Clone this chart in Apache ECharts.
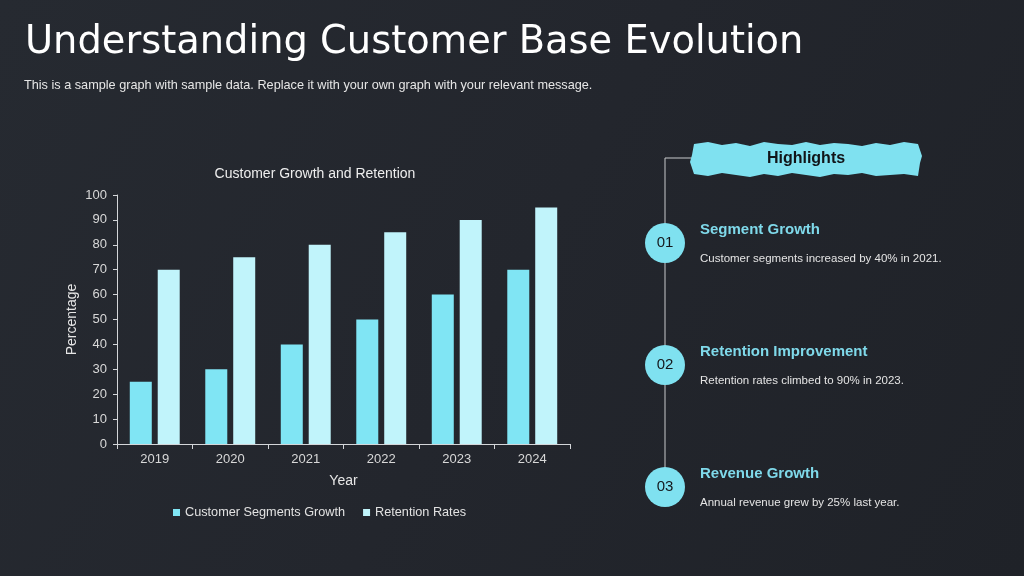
<!DOCTYPE html>
<html>
<head>
<meta charset="utf-8">
<script src="https://cdn.jsdelivr.net/npm/echarts@6/dist/echarts.min.js"></script>
<style>
html,body{margin:0;padding:0;background:#22252c;}
#c{width:1024px;height:576px;}
</style>
</head>
<body>
<div id="c"></div>
<script>
const years = ['2019','2020','2021','2022','2023','2024'];
const segmentGrowth = [25, 30, 40, 50, 60, 70];
const retentionRates = [70, 75, 80, 85, 90, 95];
const seriesNames = ['Customer Segments Growth', 'Retention Rates'];
const highlights = [
  {num: '01', head: 'Segment Growth', text: 'Customer segments increased by 40% in 2021.'},
  {num: '02', head: 'Retention Improvement', text: 'Retention rates climbed to 90% in 2023.'},
  {num: '03', head: 'Revenue Growth', text: 'Annual revenue grew by 25% last year.'}
];

const cyan = '#80e5f4';
const light = '#c1f4fb';
const axisCol = '#d4d6d9';
const font = 'Liberation Sans, Arial, sans-serif';

// rough brush banner outline
function banner(x0, y0, x1, y1) {
  const pts = [];
  const jt = [0,-2,1,-1,2,-2,0,1,-2,1,-1,0,2,-1,1,-2,0];
  const jb = [0,2,-1,1,3,0,2,-1,1,3,0,1,-1,2,1,0,2];
  const n = jt.length - 1;
  for (let i = 0; i <= n; i++) pts.push([x0 + (x1 - x0) * i / n, y0 + jt[i]]);
  pts.push([x1 + 4, (y0 + y1) / 2 - 3]);
  pts.push([x1 + 2, (y0 + y1) / 2 + 4]);
  for (let i = n; i >= 0; i--) pts.push([x0 + (x1 - x0) * i / n, y1 + jb[i]]);
  pts.push([x0 - 4, (y0 + y1) / 2 + 3]);
  pts.push([x0 - 2, (y0 + y1) / 2 - 4]);
  return pts;
}

const graphics = [
  {type: 'rect', shape: {x: 0, y: 0, width: 1024, height: 576}, z: -10,
   style: {fill: new echarts.graphic.LinearGradient(0, 0, 1, 1, [
     {offset: 0, color: '#262a31'}, {offset: 0.5, color: '#23262d'}, {offset: 1, color: '#1f2228'}])}},
  {type: 'text', left: 25, top: 24, style: {text: 'Understanding Customer Base Evolution',
    fill: '#ffffff', font: '38.4px "Comic Sans MS", "DejaVu Sans", sans-serif'}},
  {type: 'text', left: 24, top: 79, style: {text: 'This is a sample graph with sample data. Replace it with your own graph with your relevant message.',
    fill: '#e6e6e6', font: '12.7px ' + font}},
  {type: 'text', x: 315, y: 174, style: {text: 'Customer Growth and Retention', fill: '#eeeeee',
    font: '14px ' + font, align: 'center', verticalAlign: 'middle'}},
  // timeline
  {type: 'line', shape: {x1: 665, y1: 158, x2: 665, y2: 468}, style: {stroke: '#c8cacc', lineWidth: 1}},
  {type: 'line', shape: {x1: 665, y1: 158, x2: 694, y2: 158}, style: {stroke: '#c8cacc', lineWidth: 1}},
  {type: 'polygon', shape: {points: banner(694, 144, 918, 174)}, style: {fill: '#7fe1f0'}},
  {type: 'text', x: 806, y: 159, style: {text: 'Highlights', fill: '#111418',
    font: 'bold 16px ' + font, align: 'center', verticalAlign: 'middle'}}
];
const ys = [243, 365, 487];
highlights.forEach((h, i) => {
  const y = ys[i];
  graphics.push({type: 'circle', shape: {cx: 665, cy: y, r: 20}, style: {fill: '#7fe1f0'}});
  graphics.push({type: 'text', x: 665, y: y, style: {text: h.num, fill: '#15181c',
    font: '15px ' + font, align: 'center', verticalAlign: 'middle'}});
  graphics.push({type: 'text', x: 700, y: y - 13, style: {text: h.head, fill: '#7fd9ea',
    font: 'bold 15px ' + font, verticalAlign: 'middle'}});
  graphics.push({type: 'text', x: 700, y: y + 16, style: {text: h.text, fill: '#e4e4e4',
    font: '11.5px ' + font, verticalAlign: 'middle'}});
});

const chart = echarts.init(document.getElementById('c'));
chart.setOption({
  backgroundColor: 'transparent',
  animation: false,
  textStyle: {fontFamily: font},
  graphic: graphics,
  grid: {left: 117, right: 454, top: 195, bottom: 132},
  legend: {
    data: seriesNames, left: 168, top: 501, icon: 'rect', itemWidth: 7, itemHeight: 7,
    itemGap: 18, textStyle: {color: '#e2e2e2', fontSize: 12.7, fontFamily: font}
  },
  xAxis: {
    type: 'category', data: years,
    name: 'Year', nameLocation: 'middle', nameGap: 30,
    nameTextStyle: {color: '#e6e6e6', fontSize: 14},
    axisLine: {lineStyle: {color: axisCol}},
    axisTick: {show: true, length: 5, lineStyle: {color: axisCol}},
    axisLabel: {color: '#d8d8d8', fontSize: 13, margin: 9}
  },
  yAxis: {
    type: 'value', min: 0, max: 100, interval: 10,
    name: 'Percentage', nameLocation: 'middle', nameGap: 38, nameRotate: 90,
    nameTextStyle: {color: '#e6e6e6', fontSize: 14},
    axisLine: {show: true, lineStyle: {color: axisCol}},
    axisTick: {show: true, length: 4, lineStyle: {color: axisCol}},
    axisLabel: {color: '#d8d8d8', fontSize: 13, margin: 10},
    splitLine: {show: false}
  },
  series: [
    {name: seriesNames[0], type: 'bar', data: segmentGrowth, barWidth: 22, barGap: '27%',
     itemStyle: {color: cyan}},
    {name: seriesNames[1], type: 'bar', data: retentionRates, barWidth: 22, barGap: '27%',
     itemStyle: {color: light}}
  ]
});
</script>
</body>
</html>
